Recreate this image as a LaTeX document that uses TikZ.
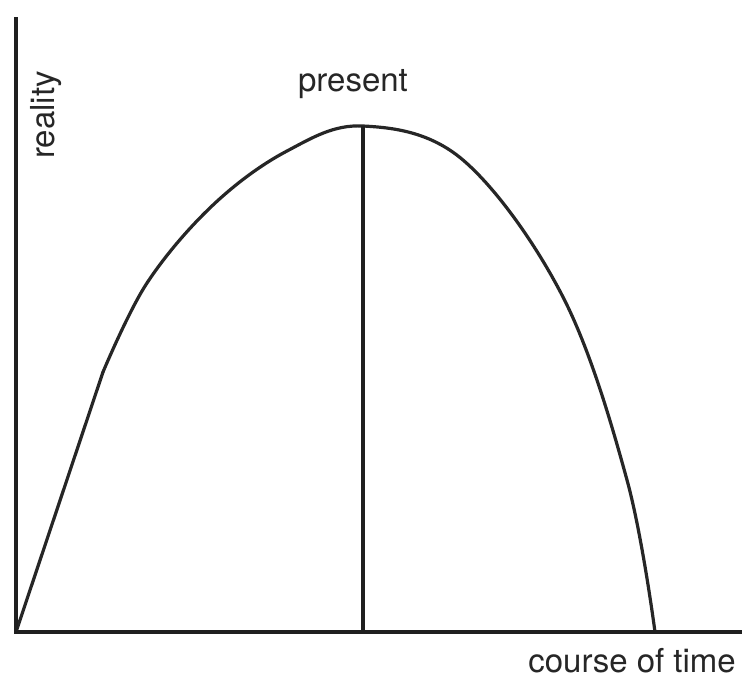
\documentclass[tikz,border=0pt]{standalone}
\usepackage{fontspec}
\setmainfont{TeX Gyre Heros}
\begin{document}
\begin{tikzpicture}[x=1pt,y=-1pt,
  axis/.style={line width=4pt,black!88},
  curve/.style={line width=3.2pt,black!85,line join=round,line cap=round},
  lbl/.style={font=\fontsize{33}{36}\selectfont,inner sep=0pt,text=black!85}]
\useasboundingbox (0,0) rectangle (742,681);
\coordinate (top) at (16,17);
\coordinate (O) at (16,632);
\coordinate (right) at (742,632);
\coordinate (P) at (363,126);
\coordinate (B) at (363,632);
\coordinate (E) at (655,632);
\coordinate (K) at (103,372);
\draw[curve] (O) -- (K);
\draw[curve] plot[smooth,tension=0.6] coordinates {(K) (147,283) (213,205) (287,151) (P) (463,160) (563,297) (627,480) (E)};
\draw[line width=3.5pt,black!88] (P) -- (B);
\draw[axis] (top) -- (O) -- (right);
\node[lbl] (present) at (353,84) {present};
\node[lbl,rotate=90] (reality) at (46,115) {reality};
\node[lbl,anchor=east] (time) at (736,661) {course of time};
\end{tikzpicture}
\end{document}
